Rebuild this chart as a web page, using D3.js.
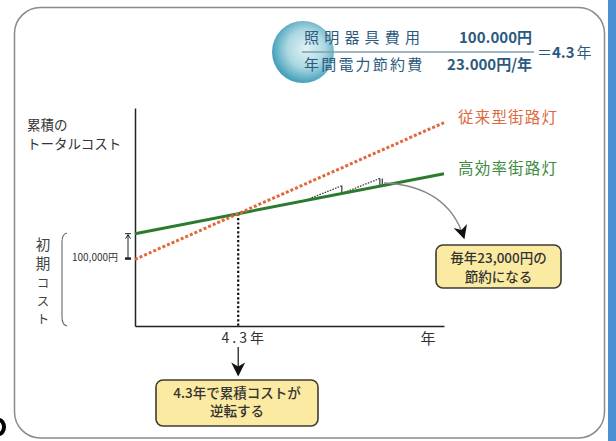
<!DOCTYPE html>
<html><head><meta charset="utf-8">
<script src="https://cdn.jsdelivr.net/npm/d3@7"></script>
<style>
html,body{margin:0;padding:0;background:#fff;}
svg{display:block;font-family:"Noto Sans CJK JP","Noto Sans",sans-serif;}
</style></head>
<body>
<svg id="chart" width="616" height="441"></svg>
<script>
// ---- data ----
const years = [0, 13];
const conventionalCost = [260000, 793000];   // 従来型街路灯
const efficientCost = [360000, 594000];      // 高効率街路灯
const seriesNames = ["従来型街路灯", "高効率街路灯"];
const crossYear = 4.3;
const initialDiffLabel = "100,000円";
const savingSteps = [[7.1, 8.7], [8.7, 10.3]];
const stepRise = 30000;
const xAxisLabels = ["4.3年", "年"];
const yAxisTitle = ["累積の", "トータルコスト"];
const initialCostLabel = ["初", "期", "コ", "ス", "ト"];
const formulaTop = ["照明器具費用", "100.000円"];
const formulaBottom = ["年間電力節約費", "23.000円/年"];
const formulaResult = ["＝", "4.3", "年"];
const note1 = ["4.3年で累積コストが", "逆転する"];
const note2 = ["毎年23,000円の", "節約になる"];

const svg = d3.select("#chart");
const W = 616, H = 441;

// defs
const defs = svg.append("defs");
const rg = defs.append("radialGradient").attr("id", "ball").attr("cx", "55%").attr("cy", "45%").attr("r", "55%");
rg.append("stop").attr("offset", "0%").attr("stop-color", "#e2f2f5");
rg.append("stop").attr("offset", "55%").attr("stop-color", "#acd8e2");
rg.append("stop").attr("offset", "100%").attr("stop-color", "#45a0ba");
defs.append("marker").attr("id", "bigHead").attr("viewBox", "0 0 10 10").attr("refX", 9).attr("refY", 5)
  .attr("markerWidth", 16).attr("markerHeight", 14).attr("orient", "auto").attr("markerUnits", "userSpaceOnUse")
  .append("path").attr("d", "M0,0 L10,5 L0,10 L3,5 Z").attr("fill", "#111");

// background
svg.append("rect").attr("width", W).attr("height", H).attr("fill", "#fff");
svg.append("rect").attr("x", 608).attr("y", 0).attr("width", 8).attr("height", H).attr("fill", "#4b8fd5");
svg.append("rect").attr("x", 14.5).attr("y", 7.5).attr("width", 590).attr("height", 430.5)
  .attr("rx", 26).attr("fill", "none").attr("stroke", "#8a8a8a").attr("stroke-width", 1.5);
svg.append("ellipse").attr("cx", -1).attr("cy", 427).attr("rx", 5).attr("ry", 7)
  .attr("fill", "none").attr("stroke", "#000").attr("stroke-width", 4);

// scales
const x = d3.scaleLinear().domain([0, 13]).range([135, 444]);
const y = d3.scaleLinear().domain([0, 850000]).range([326, 108]);

// axes (domain lines only)
svg.append("g").attr("transform", `translate(0,${y(0)})`)
  .call(d3.axisBottom(x).tickValues([]).tickSizeOuter(0))
  .call(g => g.select(".domain").attr("stroke", "#222").attr("stroke-width", 1.5));
svg.append("g").attr("transform", `translate(${x(0)},0)`)
  .call(d3.axisLeft(y).tickValues([]).tickSizeOuter(0))
  .call(g => g.select(".domain").attr("stroke", "#222").attr("stroke-width", 1.5));

// crossover
const effAt = t => efficientCost[0] + (efficientCost[1] - efficientCost[0]) * (t - years[0]) / (years[1] - years[0]);
const crossX = x(crossYear) + 1;
svg.append("line").attr("x1", crossX).attr("x2", crossX).attr("y1", y(effAt(crossYear + 0.05))).attr("y2", y(0))
  .attr("stroke", "#111").attr("stroke-width", 2.2).attr("stroke-dasharray", "2.2,2.2");

// saving steps
const stepG = svg.append("g").attr("fill", "none").attr("stroke", "#444").attr("stroke-width", 1.3);
savingSteps.forEach(([a, b]) => {
  stepG.append("path").attr("d", `M${x(a)},${y(effAt(a))} L${x(b)},${y(effAt(b) + stepRise)}`)
    .attr("stroke-dasharray", "1.6,1.2");
  stepG.append("line").attr("x1", x(b)).attr("x2", x(b)).attr("y1", y(effAt(b) + stepRise)).attr("y2", y(effAt(b)));
});
const lastB = savingSteps[savingSteps.length - 1][1];
stepG.append("line").attr("x1", x(lastB) + 2.5).attr("x2", x(lastB) + 2.5)
  .attr("y1", y(effAt(lastB) + stepRise)).attr("y2", y(effAt(lastB)) - 0.5);

// lines
const line = d3.line().x(d => x(d[0])).y(d => y(d[1]));
svg.append("path").datum(years.map((t, i) => [t, efficientCost[i]])).attr("d", line)
  .attr("fill", "none").attr("stroke", "#2b7a2e").attr("stroke-width", 3);
svg.append("path").datum(years.map((t, i) => [t, conventionalCost[i]])).attr("d", line)
  .attr("fill", "none").attr("stroke", "#e0693c").attr("stroke-width", 3).attr("stroke-dasharray", "3,2");

// series labels
svg.append("text").attr("x", 458).attr("y", 123).attr("font-size", 15.5).attr("fill", "#dd6a3e")
  .attr("letter-spacing", 1.2).text(seriesNames[0]);
svg.append("text").attr("x", 458).attr("y", 174).attr("font-size", 15.5).attr("fill", "#3d8a3e")
  .attr("letter-spacing", 1.2).text(seriesNames[1]);

// y title
svg.selectAll(".ytitle").data(yAxisTitle).join("text").attr("class", "ytitle")
  .attr("x", 27).attr("y", (d, i) => 130 + i * 18.5).attr("font-size", 13.5).attr("fill", "#333").text(d => d);

// initial cost vertical label
const icY = [250, 269, 287.5, 305.5, 323.5];
svg.selectAll(".ic").data(initialCostLabel).join("text").attr("class", "ic")
  .attr("x", 43).attr("y", (d, i) => icY[i]).attr("text-anchor", "middle")
  .attr("font-size", (d, i) => i < 2 ? 14.5 : 12.5).attr("fill", "#444").text(d => d);
// bracket
svg.append("path").attr("d", "M67,233 Q62,234 62,242 L62,317 Q62,325 67,326")
  .attr("fill", "none").attr("stroke", "#666").attr("stroke-width", 1.1);
// 100,000円 label
svg.append("text").attr("x", 72).attr("y", 261).attr("font-size", 10.5).attr("fill", "#333")
  .attr("textLength", 46).attr("lengthAdjust", "spacingAndGlyphs").text(initialDiffLabel);
// double arrow
const ax = 128;
svg.append("line").attr("x1", ax).attr("x2", ax).attr("y1", y(efficientCost[0]) + 1).attr("y2", y(conventionalCost[0]) - 1)
  .attr("stroke", "#222").attr("stroke-width", 1);
svg.append("path").attr("d", `M${ax - 2.5},${y(efficientCost[0]) + 5} L${ax},${y(efficientCost[0]) + 1} L${ax + 2.5},${y(efficientCost[0]) + 5}`)
  .attr("fill", "none").attr("stroke", "#222").attr("stroke-width", 1);
svg.append("line").attr("x1", ax - 3).attr("x2", ax + 3).attr("y1", y(efficientCost[0])).attr("y2", y(efficientCost[0]))
  .attr("stroke", "#222").attr("stroke-width", 1);
svg.append("rect").attr("x", ax - 3).attr("y", y(conventionalCost[0]) - 2).attr("width", 6).attr("height", 2.5).attr("fill", "#222");

// x labels
svg.append("text").attr("x", crossX + 6).attr("y", 343).attr("text-anchor", "middle").attr("font-size", 14)
  .attr("letter-spacing", 3).attr("fill", "#333").text(xAxisLabels[0]);
svg.append("text").attr("x", 428).attr("y", 344).attr("text-anchor", "middle").attr("font-size", 15)
  .attr("fill", "#333").text(xAxisLabels[1]);

// down arrow
svg.append("line").attr("x1", crossX).attr("x2", crossX).attr("y1", 347).attr("y2", 375)
  .attr("stroke", "#111").attr("stroke-width", 1.2).attr("marker-end", "url(#bigHead)");

// curved arrow
svg.append("path").attr("d", "M384,183 Q448,186 464,238").attr("fill", "none")
  .attr("stroke", "#888").attr("stroke-width", 1.3).attr("marker-end", "url(#bigHead)");

// note boxes
function note(x0, y0, w, h, lines, ly) {
  const g = svg.append("g");
  g.append("rect").attr("x", x0).attr("y", y0).attr("width", w).attr("height", h).attr("rx", 7)
    .attr("fill", "#fbeaa2").attr("stroke", "#3e3b30").attr("stroke-width", 1.6);
  g.selectAll("text").data(lines).join("text").attr("x", x0 + w / 2).attr("y", (d, i) => ly[i])
    .attr("text-anchor", "middle").attr("font-size", 13.5).attr("font-weight", 500).attr("fill", "#333").text(d => d);
}
note(156, 380, 162, 46, note1, [397.5, 416]);
note(436, 245, 125, 43, note2, [263, 281.5]);

// formula
svg.append("circle").attr("cx", 303).attr("cy", 52).attr("r", 31).attr("fill", "url(#ball)");
const fc = "#2c5a7e";
svg.append("text").attr("x", 304).attr("y", 43).attr("font-size", 15).attr("letter-spacing", 5.2).attr("fill", fc).text(formulaTop[0]);
svg.append("text").attr("x", 532).attr("y", 43).attr("text-anchor", "end").attr("font-size", 15).attr("font-weight", "bold").attr("fill", fc).text(formulaTop[1]);
svg.append("line").attr("x1", 302).attr("x2", 534).attr("y1", 52).attr("y2", 52).attr("stroke", "#7f9db3").attr("stroke-width", 1.3);
svg.append("text").attr("x", 304).attr("y", 70).attr("font-size", 15).attr("letter-spacing", 2.2).attr("fill", fc).text(formulaBottom[0]);
svg.append("text").attr("x", 532).attr("y", 70).attr("text-anchor", "end").attr("font-size", 15).attr("font-weight", "bold").attr("fill", fc).text(formulaBottom[1]);
const rt = svg.append("text").attr("x", 537).attr("y", 58).attr("font-size", 15).attr("fill", fc);
rt.append("tspan").text(formulaResult[0]);
rt.append("tspan").attr("font-weight", "bold").text(formulaResult[1]);
rt.append("tspan").attr("dx", 2).text(formulaResult[2]);
</script>
</body></html>
